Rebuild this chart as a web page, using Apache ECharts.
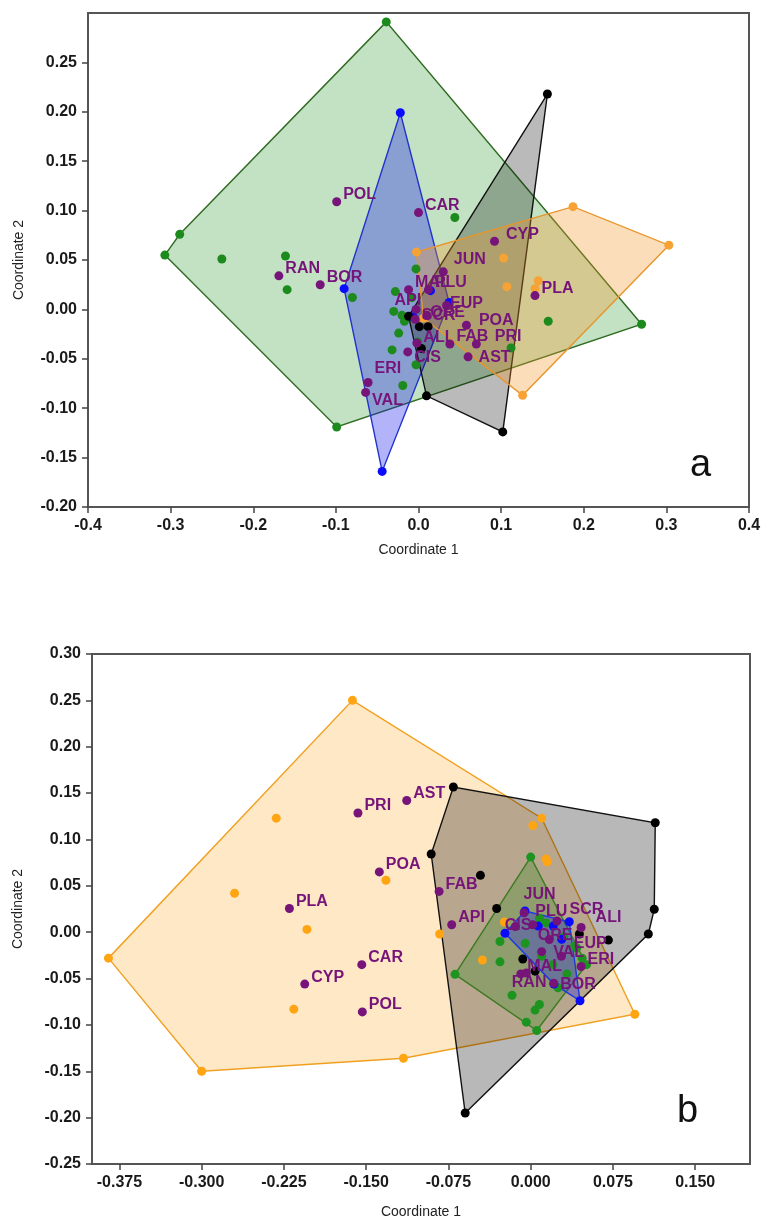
<!DOCTYPE html>
<html>
<head>
<meta charset="utf-8">
<script src="https://cdn.jsdelivr.net/npm/echarts@6/dist/echarts.min.js"></script>
<style>
  html, body { margin: 0; padding: 0; background: #fff; }
  #chart { width: 770px; height: 1227px; }
</style>
</head>
<body>
<div id="chart"></div>
<script>
// ---------- panel a ----------
const ticksAX = [-0.4, -0.3, -0.2, -0.1, 0, 0.1, 0.2, 0.3, 0.4];
const ticksAY = [-0.2, -0.15, -0.1, -0.05, 0, 0.05, 0.1, 0.15, 0.2, 0.25];

const greenA = [[-0.039, 0.291], [-0.289, 0.076], [-0.307, 0.055], [-0.238, 0.051], [-0.161, 0.054],
  [-0.159, 0.020], [-0.080, 0.012], [0.044, 0.093], [0.270, -0.015], [0.157, -0.012], [0.112, -0.039],
  [-0.099, -0.119], [-0.019, -0.077], [-0.003, 0.041], [-0.028, 0.018], [-0.030, -0.002], [-0.020, -0.006],
  [-0.017, -0.012], [-0.024, -0.024], [-0.032, -0.041], [-0.001, -0.033], [-0.003, -0.056], [-0.008, 0.012]];
const blueA = [[-0.022, 0.199], [-0.090, 0.021], [-0.044, -0.164], [0.037, 0.007], [0.0145, 0.019], [-0.0065, -0.0075]];
const blackA = [[0.156, 0.218], [0.102, -0.124], [0.0097, -0.0875], [-0.012, -0.007], [0.0035, -0.0395],
  [0.0116, -0.0175], [0.001, -0.0175]];
const orangeA = [[0.187, 0.104], [0.303, 0.065], [0.126, -0.087], [-0.0025, 0.058], [0.103, 0.052],
  [0.107, 0.023], [0.145, 0.029], [0.141, 0.021], [0.006, -0.009]];
const namesA = ['POL', 'CAR', 'CYP', 'JUN', 'RAN', 'BOR', 'MAL', 'PLU', 'API', 'EUP', 'ORE',
  'SCR', 'ALI', 'FAB', 'PRI', 'AST', 'CIS', 'ERI', 'VAL', 'PLA', 'POA'];
const purpleA = [[-0.099, 0.109], [0.000, 0.098], [0.092, 0.069], [0.030, 0.038], [-0.169, 0.034],
  [-0.119, 0.025], [-0.012, 0.020], [0.012, 0.020], [-0.003, 0.000], [0.034, 0.004], [0.010, -0.006],
  [-0.004, -0.010], [-0.002, -0.034], [0.038, -0.035], [0.070, -0.035], [0.060, -0.048], [-0.013, -0.043],
  [-0.061, -0.074], [-0.064, -0.084], [0.141, 0.014], [0.058, -0.016]];

// ---------- panel b ----------
const ticksBX = [-0.375, -0.3, -0.225, -0.15, -0.075, 0, 0.075, 0.15];
const ticksBY = [-0.25, -0.2, -0.15, -0.1, -0.05, 0, 0.05, 0.1, 0.15, 0.2, 0.25, 0.3];

const orangeB = [[-0.1625, 0.250], [-0.385, -0.028], [-0.300, -0.150], [-0.116, -0.136], [0.095, -0.0885],
  [0.010, 0.123], [-0.232, 0.123], [-0.270, 0.042], [-0.204, 0.003], [-0.132, 0.056], [-0.216, -0.083],
  [-0.083, -0.002], [-0.044, -0.030], [0.002, 0.115], [0.014, 0.079], [0.015, 0.076], [-0.024, 0.011]];
const blackB = [[-0.0705, 0.1566], [0.1136, 0.118], [0.1127, 0.0247], [0.1073, -0.002], [-0.0597, -0.195],
  [-0.0907, 0.0843], [-0.0458, 0.0613], [-0.031, 0.0255], [0.0709, -0.0085], [-0.0072, -0.029],
  [0.0444, -0.002], [0.004, -0.042]];
const greenB = [[0.000, 0.081], [-0.069, -0.0455], [-0.004, -0.097], [0.0055, -0.106], [0.051, -0.035],
  [0.047, -0.028], [-0.028, -0.010], [-0.028, -0.032], [-0.017, -0.068], [0.004, -0.084], [0.008, -0.078],
  [-0.005, -0.012], [0.014, 0.010], [0.030, -0.005], [0.040, -0.015], [0.042, -0.017], [0.020, -0.035],
  [0.033, -0.045], [0.008, 0.015], [0.010, -0.026], [0.025, -0.060]];
const blueB = [[-0.0052, 0.0228], [-0.0234, -0.0012], [0.0212, -0.056], [0.045, -0.074], [0.0352, 0.0113],
  [0.007, 0.0066], [0.0206, 0.0066], [0.0283, -0.0077]];
const namesB = ['AST', 'PRI', 'POA', 'FAB', 'PLA', 'API', 'CAR', 'CYP', 'POL', 'JUN', 'PLU',
  'SCR', 'ALI', 'CIS', 'ORE', 'EUP', 'VAL', 'ERI', 'MAL', 'RAN', 'BOR'];
const purpleB = [[-0.113, 0.142], [-0.1575, 0.1285], [-0.138, 0.065], [-0.0835, 0.044], [-0.220, 0.0255],
  [-0.072, 0.008], [-0.154, -0.035], [-0.206, -0.056], [-0.1535, -0.086], [-0.006, 0.021], [0.002, 0.008],
  [0.024, 0.012], [0.046, 0.005], [-0.014, 0.006], [0.017, -0.008], [0.028, -0.026], [0.010, -0.021],
  [0.046, -0.037], [-0.009, -0.045], [-0.004, -0.044], [0.021, -0.055]];

// label nudges (pixels) where the labels were moved off the default spot
const shiftA = { ERI: [0, -14], VAL: [0, 8], CIS: [0, 6], PRI: [12, -7], AST: [4, 1], ALI: [0, -5],
  API: [-28, -9], EUP: [-3, -2], ORE: [-3, -3], SCR: [0, -4], JUN: [4, -12], POA: [6, -5], CYP: [5, -7] };
const shiftB = { RAN: [-21, 10], BOR: [0, 1], EUP: [6, -13], VAL: [5, 1], ALI: [8, -10], SCR: [6, -11],
  PLU: [-4, -13], JUN: [-7, -18], CIS: [-17, -1], ORE: [-18, -4] };

// monotone chain hull
function convexHull(pts) {
  const p = pts.slice().sort((a, b) => a[0] - b[0] || a[1] - b[1]);
  const cross = (o, a, b) => (a[0] - o[0]) * (b[1] - o[1]) - (a[1] - o[1]) * (b[0] - o[0]);
  const lower = [], upper = [];
  for (const q of p) {
    while (lower.length >= 2 && cross(lower[lower.length - 2], lower[lower.length - 1], q) <= 0) lower.pop();
    lower.push(q);
  }
  for (let i = p.length - 1; i >= 0; i--) {
    const q = p[i];
    while (upper.length >= 2 && cross(upper[upper.length - 2], upper[upper.length - 1], q) <= 0) upper.pop();
    upper.push(q);
  }
  upper.pop(); lower.pop();
  return lower.concat(upper);
}

function hull(pts, idx, fill, stroke) {
  const h = convexHull(pts);
  return {
    type: 'custom', xAxisIndex: idx, yAxisIndex: idx, z: 1, silent: true,
    data: [h[0]],
    renderItem: (params, api) => ({
      type: 'polygon',
      shape: { points: h.map(p => api.coord(p)) },
      style: { fill: fill, stroke: stroke, lineWidth: 1.4 }
    })
  };
}

function dots(pts, idx, color) {
  return {
    type: 'scatter', xAxisIndex: idx, yAxisIndex: idx, z: 2, silent: true,
    symbolSize: 9, itemStyle: { color: color, opacity: 1 },
    data: pts
  };
}

function purple(pts, names, shift, idx) {
  return {
    type: 'scatter', xAxisIndex: idx, yAxisIndex: idx, z: 3, silent: true,
    symbolSize: 9, itemStyle: { color: '#76147a', opacity: 1 },
    data: pts.map((p, i) => ({
      value: p, name: names[i],
      label: { offset: shift[names[i]] || [0, -7] }
    })),
    label: {
      show: true, position: 'right', distance: 2, formatter: '{b}',
      color: '#76147a', fontSize: 16, fontWeight: 'bold', fontFamily: 'Liberation Sans, Arial, sans-serif'
    }
  };
}

const fmt = d => v => (Math.abs(v) < 1e-9 ? 0 : v).toFixed(d);
const tickFont = { color: '#1a1a1a', fontSize: 16, fontWeight: 'bold', fontFamily: 'Liberation Sans, Arial, sans-serif', margin: 11 };
const axisLine = { show: true, onZero: false, lineStyle: { color: '#555', width: 2 } };
const axisTick = { show: true, length: 6, lineStyle: { color: '#444', width: 1.5 } };
const nameStyle = { color: '#222', fontSize: 14, fontFamily: 'Liberation Sans, Arial, sans-serif' };

function xAxis(idx, min, max, ticks, d, gap) {
  return {
    type: 'value', gridIndex: idx, min: min, max: max,
    name: 'Coordinate 1', nameLocation: 'middle', nameGap: gap, nameTextStyle: nameStyle,
    axisLine: axisLine, axisTick: Object.assign({ customValues: ticks }, axisTick),
    axisLabel: Object.assign({ customValues: ticks, formatter: fmt(d) }, tickFont),
    splitLine: { show: false }
  };
}
function yAxis(idx, min, max, ticks, gap) {
  return {
    type: 'value', gridIndex: idx, min: min, max: max,
    name: 'Coordinate 2', nameLocation: 'middle', nameGap: gap, nameTextStyle: nameStyle,
    axisLine: axisLine, axisTick: Object.assign({ customValues: ticks }, axisTick),
    axisLabel: Object.assign({ customValues: ticks, formatter: fmt(2) }, tickFont),
    splitLine: { show: false }
  };
}

const chart = echarts.init(document.getElementById('chart'));
chart.setOption({
  animation: false,
  backgroundColor: '#fff',
  grid: [
    { left: 88, top: 13, width: 661, height: 494, show: true, borderColor: '#555', borderWidth: 2 },
    { left: 92, top: 654, width: 658, height: 510, show: true, borderColor: '#555', borderWidth: 2 }
  ],
  xAxis: [xAxis(0, -0.4, 0.4, ticksAX, 1, 36), xAxis(1, -0.4, 0.2, ticksBX, 3, 41)],
  yAxis: [yAxis(0, -0.2, 0.3, ticksAY, 62), yAxis(1, -0.25, 0.3, ticksBY, 67)],
  graphic: [
    { type: 'text', left: 690, top: 447, style: { text: 'a', fontSize: 38, fill: '#111', fontFamily: 'Liberation Sans, Arial, sans-serif' } },
    { type: 'text', left: 677, top: 1093, style: { text: 'b', fontSize: 38, fill: '#111', fontFamily: 'Liberation Sans, Arial, sans-serif' } }
  ],
  series: [
    hull(greenA, 0, 'rgba(40,150,40,0.28)', '#2f6b22'),
    hull(blueA, 0, 'rgba(20,20,240,0.32)', '#2233cc'),
    hull(blackA, 0, 'rgba(0,0,0,0.27)', '#111'),
    hull(orangeA, 0, 'rgba(245,150,40,0.32)', '#e8952a'),
    dots(greenA, 0, '#1d8a1d'),
    dots(blueA, 0, '#0a0aff'),
    dots(blackA, 0, '#000'),
    dots(orangeA, 0, '#f7a234'),
    purple(purpleA, namesA, shiftA, 0),

    hull(orangeB, 1, 'rgba(255,170,40,0.27)', '#f0a020'),
    hull(blackB, 1, 'rgba(0,0,0,0.28)', '#111'),
    hull(greenB, 1, 'rgba(50,140,30,0.3)', '#3d7a22'),
    hull(blueB, 1, 'rgba(40,40,230,0.35)', '#1a3ae0'),
    dots(orangeB, 1, '#ffa514'),
    dots(blackB, 1, '#000'),
    dots(greenB, 1, '#1e9420'),
    dots(blueB, 1, '#0a0aff'),
    purple(purpleB, namesB, shiftB, 1)
  ]
});
</script>
</body>
</html>
